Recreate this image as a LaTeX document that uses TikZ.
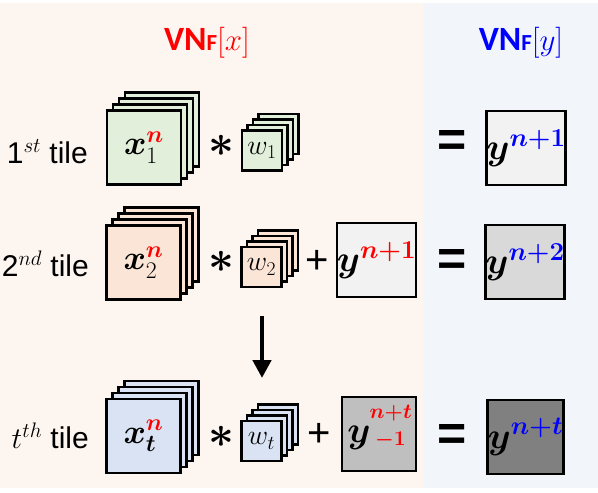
\RequirePackage{fix-cm}
\documentclass[tikz,border=0pt]{standalone}
\usepackage{amsmath}
\usepackage{amssymb}
\usepackage{xcolor}
\usepackage[no-math]{fontspec}
\setmainfont{Liberation Sans}
\newfontfamily\titlefont{Carlito}
\usetikzlibrary{arrows.meta}

\definecolor{xpanel}{HTML}{FDF5F0}
\definecolor{ypanel}{HTML}{F2F6FB}
\definecolor{tilegreen}{HTML}{E2EFDA}
\definecolor{tilepeach}{HTML}{FBE5D6}
\definecolor{tileblue}{HTML}{DAE3F3}
\definecolor{ylight}{HTML}{F2F2F2}
\definecolor{ymid}{HTML}{D9D9D9}
\definecolor{ydark}{HTML}{BFBFBF}
\definecolor{ydeep}{HTML}{808080}

\tikzset{
  fmap/.style={draw, line width=2.5pt, inner sep=0pt, minimum size=74pt,
    font=\fontsize{34}{40}\selectfont},
  ymap/.style={fmap, font=\fontsize{37}{42}\selectfont},
  kern/.style={draw, line width=2.5pt, inner sep=0pt, minimum size=40pt,
    font=\fontsize{28}{32}\selectfont},
  layer/.style={draw, line width=2.5pt},
  tilelbl/.style={font=\fontsize{30}{34}\selectfont, anchor=base east, inner sep=0pt},
  opsign/.style={font=\fontsize{40}{44}\selectfont, inner sep=0pt},
  astsign/.style={font=\fontsize{45}{50}\selectfont, inner sep=0pt},
  eqsign/.style={font=\fontsize{50}{56}\selectfont\bfseries, inner sep=0pt},
  title/.style={font=\fontsize{34}{40}\selectfont\titlefont\bfseries},
  scriptlbl/.style={font=\fontsize{30}{36}\selectfont, inner sep=0pt, text=red},
}

\begin{document}
\begin{tikzpicture}[x=1pt,y=-1pt]
	\useasboundingbox (0,0) rectangle (598,493);
	\fill[xpanel] (0,3) rectangle (423,488);
	\fill[ypanel] (423,3) rectangle (598,488);

	% titles
	\node[title, text=red] (xtitle) at (207,43) {VN{\fontsize{23}{26}\selectfont F}{\fontsize{31}{36}\selectfont$[x]$}};
	\node[title, text=blue] (ytitle) at (521,43) {VN{\fontsize{23}{26}\selectfont F}{\fontsize{31}{36}\selectfont$[y]$}};

	% 1st tile
	\node[tilelbl] (tile1) at (88,163) {1$^{st}$ tile};
	\foreach \k in {3,2,1}
		\draw[layer, fill=tilegreen] ({144+6*\k-37},{147.5-6*\k-37}) rectangle +(74,74);
	\node[fmap, fill=tilegreen] (x1) at (144,147.5) {$\boldsymbol{x}_1^{{\color{red}\boldsymbol{n}}}$};
	\node[astsign] (ast1) at (221,146) {$\boldsymbol{\ast}$};
	\foreach \k in {3,2,1}
		\draw[layer, fill=tilegreen] ({262+5.5*\k-20},{150.5-5.5*\k-20}) rectangle +(40,40);
	\node[kern, fill=tilegreen] (w1) at (262,150.5) {$w_1$};
	\node[eqsign] (eq1) at (452,143) {=};
	\node[ymap, fill=ylight] (y1) at (526,148) {$\boldsymbol{y}^{{\color{blue}\boldsymbol{n+1}}}$};

	% 2nd tile
	\node[tilelbl] (tile2) at (89,276) {2$^{nd}$ tile};
	\foreach \k in {3,2,1}
		\draw[layer, fill=tilepeach] ({143.5+6*\k-37},{262.5-6*\k-37}) rectangle +(74,74);
	\node[fmap, fill=tilepeach] (x2) at (143.5,262.5) {$\boldsymbol{x}_2^{{\color{red}\boldsymbol{n}}}$};
	\node[astsign] (ast2) at (221,262) {$\boldsymbol{\ast}$};
	\foreach \k in {3,2,1}
		\draw[layer, fill=tilepeach] ({261.5+5.5*\k-20},{267-5.5*\k-20}) rectangle +(40,40);
	\node[kern, fill=tilepeach] (w2) at (261.5,267) {$w_2$};
	\node[opsign] (plus2) at (317,262) {+};
	\node[ymap, fill=ylight] (y2a) at (376.5,260) {$\boldsymbol{y}^{{\color{red}\boldsymbol{n+1}}}$};
	\node[eqsign] (eq2) at (452,262) {=};
	\node[ymap, fill=ymid] (y2) at (525,262) {$\boldsymbol{y}^{{\color{blue}\boldsymbol{n+2}}}$};

	% next tiles
	\coordinate (arrtop) at (262,316);
	\coordinate (arrtip) at (262,378);
	\draw[line width=4.5pt, -{Triangle[length=18pt,width=18pt]}] (arrtop) -- (arrtip);

	% t-th tile
	\node[tilelbl] (tilet) at (89,448) {$t^{th}$ tile};
	\foreach \k in {3,2,1}
		\draw[layer, fill=tileblue] ({143.5+6*\k-37},{436-6*\k-37}) rectangle +(74,74);
	\node[fmap, fill=tileblue] (xt) at (143.5,436) {$\boldsymbol{x}_{\boldsymbol{t}}^{{\color{red}\boldsymbol{n}}}$};
	\node[astsign] (astt) at (221,437) {$\boldsymbol{\ast}$};
	\foreach \k in {3,2,1}
		\draw[layer, fill=tileblue] ({261.5+5.5*\k-20},{441-5.5*\k-20}) rectangle +(40,40);
	\node[kern, fill=tileblue] (wt) at (261.5,441) {$w_t$};
	\node[opsign] (plust) at (319,435) {+};
	\node[ymap, fill=ydark] (yta) at (379,434) {};
	\node[ymap, draw=none, minimum size=0pt] (ytay) at (359,438) {$\boldsymbol{y}$};
	\node[scriptlbl, anchor=east] (ytasup) at (412,413) {$\scriptstyle\boldsymbol{n+t}$};
	\node[scriptlbl, anchor=east] (ytasub) at (406,440) {$\scriptstyle\boldsymbol{-1}$};
	\node[eqsign] (eqt) at (452,437) {=};
	\node[ymap, fill=ydeep] (yt) at (525.5,437) {$\boldsymbol{y}^{{\color{blue}\boldsymbol{n+t}}}$};
\end{tikzpicture}
\end{document}
